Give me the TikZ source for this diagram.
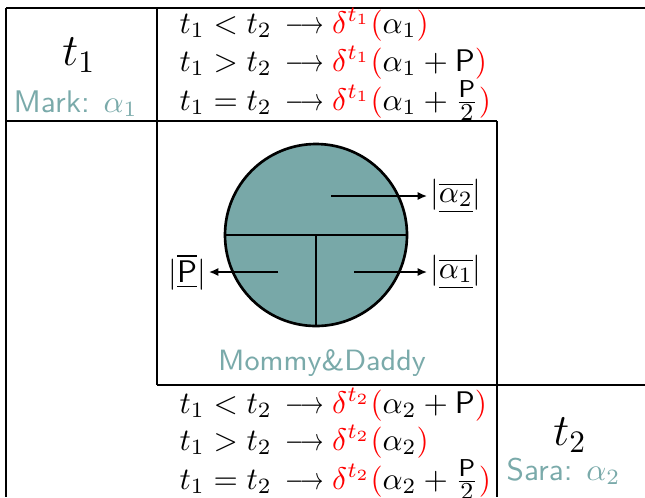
\documentclass[tikz,border=0pt]{standalone}
\usepackage{graphicx}
\usetikzlibrary{arrows.meta}
\definecolor{tealfill}{RGB}{120,168,168}
\definecolor{tealtxt}{RGB}{122,170,170}
\newcommand{\myarrow}{\,\mathrel{\scalebox{0.75}[1]{$\longrightarrow$}}}
\newcommand{\myhalf}{\frac{\hbox{\fontsize{7.8pt}{9pt}\selectfont\sffamily P}}{\hbox{\fontsize{7.8pt}{9pt}\selectfont 2}}}
\begin{document}
\begin{tikzpicture}[x=0.32pt,y=-0.32pt,
  grid/.style={draw=black,line width=0.4pt},
  thick line/.style={draw=black,line width=0.85pt},
  rowtxt/.style={anchor=base west,inner sep=0pt,font=\fontsize{9.8pt}{12pt}\selectfont},
  who/.style={text=tealtxt,font=\sffamily,anchor=base west,inner sep=0pt},
  lab/.style={inner sep=0.8pt},
  arr/.style={-{Latex[length=3pt,width=2.6pt]},line width=0.5pt}]
\useasboundingbox (0,0) rectangle (645,497);
% grid
\draw[grid] (6,8) -- (645,8);
\draw[grid] (6,8) -- (6,497);
\draw[grid] (157,8) -- (157,385);
\draw[grid] (6,121) -- (497,121);
\draw[grid] (157,385) -- (645,385);
\draw[grid] (497,121) -- (497,497);
% top-left cell
\node[font=\Large] (t1) at (79,55) {$t_1$};
\node[who] (mark) at (13,112) {Mark: $\alpha_1$};
% top rows
\node[rowtxt] (r1) at (179,33) {$t_1<t_2\myarrow\textcolor{red}{\delta^{t_1}(}\alpha_1\textcolor{red}{)}$};
\node[rowtxt] (r2) at (179,71) {$t_1>t_2\myarrow\textcolor{red}{\delta^{t_1}(}\alpha_1+\mathsf{P}\textcolor{red}{)}$};
\node[rowtxt] (r3) at (179,110) {$t_1=t_2\myarrow\textcolor{red}{\delta^{t_1}(}\alpha_1+\myhalf\textcolor{red}{)}$};
% circle
\draw[thick line,fill=tealfill] (316,235) circle [radius=91];
\draw[thick line] (225,235) -- (407,235);
\draw[thick line] (316,235) -- (316,326);
\coordinate (a2s) at (331,196);
\coordinate (a1s) at (354,272);
\coordinate (ps) at (278,272);
\node[lab,anchor=west] (a2) at (427,196) {$|\overline{\underline{\alpha_2}}|$};
\node[lab,anchor=west] (a1) at (427,272) {$|\overline{\underline{\alpha_1}}|$};
\node[lab,anchor=east] (p) at (209,272) {$|\overline{\underline{\mathsf{P}}}|$};
\draw[arr] (a2s) -- (a2);
\draw[arr] (a1s) -- (a1);
\draw[arr] (ps) -- (p);
\node[who,anchor=base,font=\sffamily\fontsize{9.4pt}{11pt}\selectfont] (md) at (322,370) {Mommy\&Daddy};
% bottom rows
\node[rowtxt] (s1) at (179,413) {$t_1<t_2\myarrow\textcolor{red}{\delta^{t_2}(}\alpha_2+\mathsf{P}\textcolor{red}{)}$};
\node[rowtxt] (s2) at (179,450) {$t_1>t_2\myarrow\textcolor{red}{\delta^{t_2}(}\alpha_2\textcolor{red}{)}$};
\node[rowtxt] (s3) at (179,489) {$t_1=t_2\myarrow\textcolor{red}{\delta^{t_2}(}\alpha_2+\myhalf\textcolor{red}{)}$};
% bottom-right cell
\node[font=\Large] (t2) at (570,435) {$t_2$};
\node[who] (sara) at (506,480) {Sara: $\alpha_2$};
\end{tikzpicture}
\end{document}
